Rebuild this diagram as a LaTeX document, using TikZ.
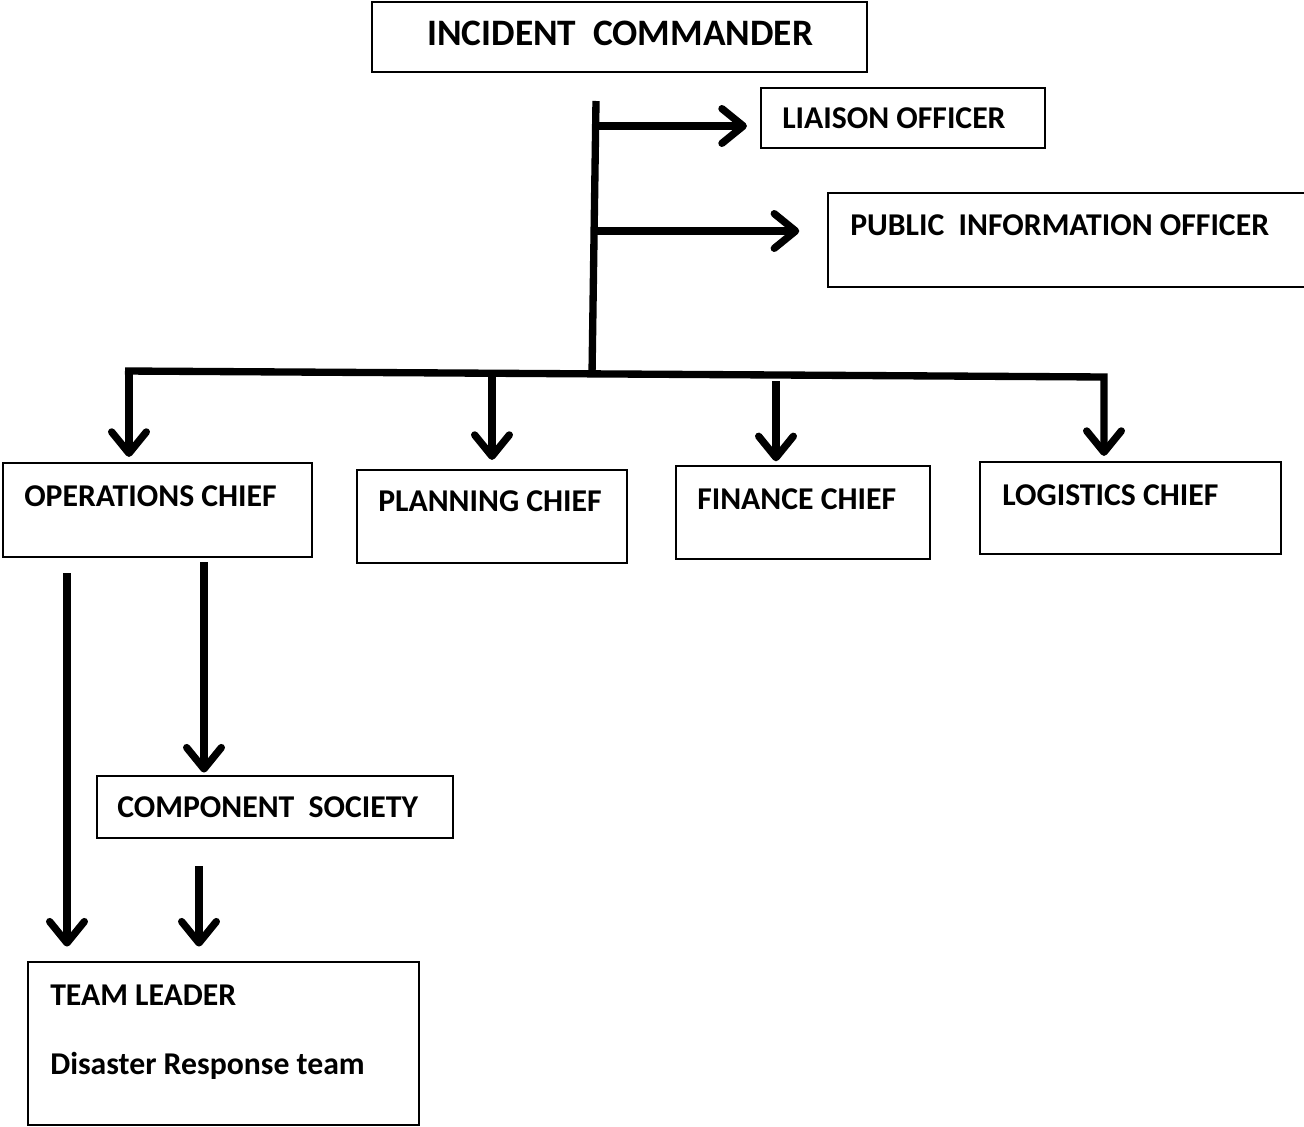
\documentclass[tikz,border=0pt]{standalone}
\usepackage{fontspec}
\setmainfont{Carlito}
\usetikzlibrary{arrows.meta,fit}
\begin{document}
\begin{tikzpicture}[x=0.75pt,y=-0.75pt,
  box/.style={draw=black,line width=1.1pt,inner sep=0pt,fill=none},
  lbl/.style={anchor=base west,inner sep=0pt,font=\fontsize{23.8}{28}\selectfont\bfseries},
  bigl/.style={anchor=base west,inner sep=0pt,font=\fontsize{28}{32}\selectfont\bfseries},
  thick line/.style={line width=5.5pt},
  arr/.style={line width=5.5pt,-{Straight Barb[length=16pt,width=26pt,round]}}]
\useasboundingbox[fill=white] (0,0) rectangle (1304,1127);
% boxes
\node[box,fit={(372,2) (867,72)}] (ic) {};
\node[box,fit={(761,88) (1045,148)}] (lia) {};
\node[box,fit={(828,193) (1310,287)}] (pio) {};
\node[box,fit={(3,463) (312,557)}] (ops) {};
\node[box,fit={(357,470) (627,563)}] (plan) {};
\node[box,fit={(676,466) (930,559)}] (fin) {};
\node[box,fit={(980,462) (1281,554)}] (log) {};
\node[box,fit={(97,776) (453,838)}] (comp) {};
\node[box,fit={(28,962) (419,1125)}] (team) {};
% texts
\node[bigl] (icT) at (427,46) {INCIDENT\ \ COMMANDER};
\node[lbl] (liaT) at (782,129) {LIAISON OFFICER};
\node[lbl] (pioT) at (850,236) {PUBLIC\ \ INFORMATION OFFICER};
\node[lbl] (opsT) at (24,506) {OPERATIONS CHIEF};
\node[lbl] (planT) at (378,511) {PLANNING CHIEF};
\node[lbl] (finT) at (697,509) {FINANCE CHIEF};
\node[lbl] (logT) at (1002,505) {LOGISTICS CHIEF};
\node[lbl] (compT) at (117,817) {COMPONENT\ \ SOCIETY};
\node[lbl] (teamT) at (50,1005) {TEAM LEADER};
\node[lbl] (teamT2) at (50,1074) {Disaster Response team};
% trunk and bar
\coordinate (tTop) at (596,101);
\coordinate (tBot) at (592,375);
\coordinate (tL) at (596,126);
\coordinate (tP) at (595,231);
\coordinate (bL) at (125,371);
\coordinate (bR) at (1104,377);
\draw[thick line] (tTop) -- (tBot);
\draw[arr,shorten >=10pt] (tL) -- (tL -| lia.west);
\draw[arr,shorten >=21pt] (tP) -- (tP -| pio.west);
\draw[line width=5.5pt,miter limit=10,-{Straight Barb[length=16pt,width=26pt,round]},shorten >=4pt] (bL) -- (bR) -- (bR |- log.north);
\coordinate (aO) at (129,373);
\coordinate (aP) at (492,376);
\coordinate (aF) at (776,381);
\draw[arr,shorten >=4pt] (aO) -- (aO |- ops.north);
\draw[arr,shorten >=7pt] (aP) -- (aP |- plan.north);
\draw[arr,shorten >=3pt] (aF) -- (aF |- fin.north);
% operations children
\coordinate (o1) at (67,557);
\coordinate (o2) at (204,557);
\coordinate (c3) at (199,838);
\draw[arr,shorten <=12pt,shorten >=11pt] (o1) -- (o1 |- team.north);
\draw[arr,shorten <=4pt,shorten >=2pt] (o2) -- (o2 |- comp.north);
\draw[arr,shorten <=21pt,shorten >=11pt] (c3) -- (c3 |- team.north);
\end{tikzpicture}
\end{document}
